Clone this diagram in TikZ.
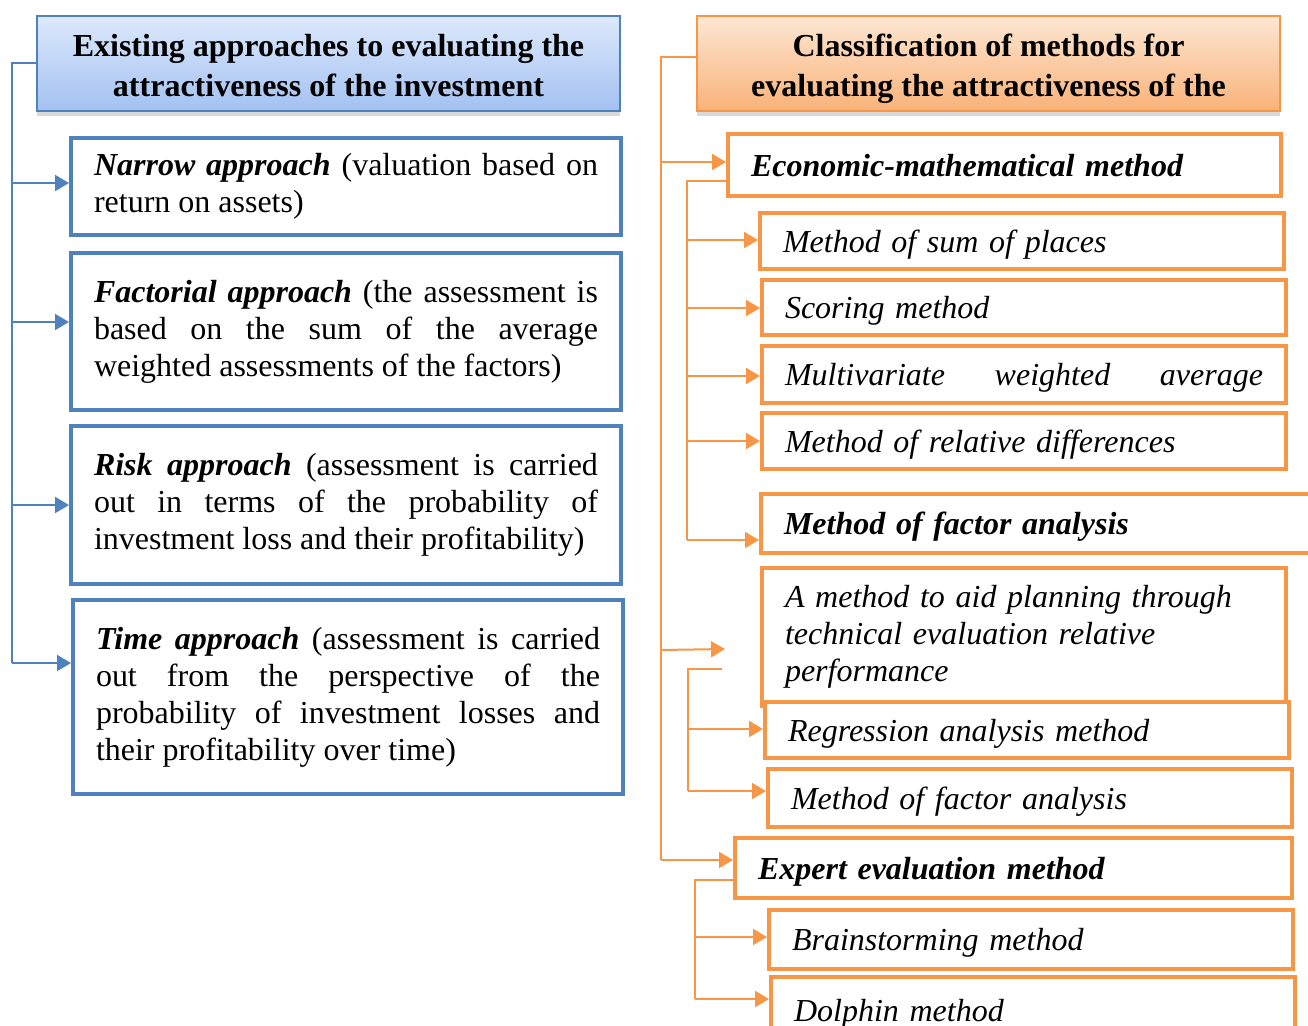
\documentclass[tikz,border=0pt]{standalone}
\usepackage{fontspec}
\setmainfont{Liberation Serif}
\usetikzlibrary{arrows.meta,positioning,shadows}
\definecolor{appblue}{HTML}{4F81BD}
\definecolor{bluetop}{HTML}{DDE9FC}
\definecolor{bluebot}{HTML}{A3C1F1}
\definecolor{apporange}{HTML}{F79646}
\definecolor{orangetop}{HTML}{FDE7D3}
\definecolor{orangebot}{HTML}{F9B278}
\newcommand{\headstrut}{\rule{0pt}{17pt}}
\tikzset{
    headbox/.style={
           rectangle,
           anchor=north west,
           minimum width=291.5pt,
           minimum height=47.5pt,
           inner ysep=0pt,
           line width=1pt,
           align=center,
           font=\fontsize{16}{20}\selectfont\bfseries,
           drop shadow={shadow xshift=0pt, shadow yshift=-2.5pt, opacity=.3},
           },
    bluehead/.style={headbox, draw=appblue, top color=bluetop, bottom color=bluebot},
    orangehead/.style={headbox, draw=apporange, top color=orangetop, bottom color=orangebot},
    approach/.style={
           rectangle,
           anchor=north west,
           draw=appblue, line width=2pt,
           fill=white,
           text width=252pt,
           inner xsep=11.5pt,
           align=justify,
           font=\fontsize{16}{18.5}\selectfont,
           },
    method/.style={
           rectangle,
           anchor=north west,
           draw=apporange, line width=2pt,
           fill=white,
           text width=239pt,
           text depth=0pt,
           inner xsep=11.5pt,
           align=left,
           font=\fontsize{16}{18.5}\selectfont\itshape,
           },
    group/.style={method, font=\fontsize{16}{18.5}\selectfont\bfseries\itshape},
    blueline/.style={draw=appblue, line width=1pt},
    bluearrow/.style={blueline, -{Triangle[length=7pt,width=8pt]}},
    orangeline/.style={draw=apporange, line width=1pt},
    orangearrow/.style={orangeline, -{Triangle[length=7pt,width=8pt]}},
}

\begin{document}
\begin{tikzpicture}[x=0.5pt,y=-0.5pt]
\useasboundingbox (0,0) rectangle (1308,1025);
\clip (0,0) rectangle (1308,1025);

% approaches
\node[bluehead] (existing) at (36,15)
  {\headstrut Existing approaches to evaluating the\\ attractiveness of the investment\vphantom{g}};
\node[approach, minimum height=48.5pt] (narrow) at (69,136)
  {\textbf{\textit{Narrow approach}} (valuation based on\linebreak return on assets)};
\node[approach, minimum height=78.5pt] (factorial) at (69,251)
  {\textbf{\textit{Factorial approach}} (the assessment is\linebreak based on the sum of the average\linebreak weighted assessments of the factors)};
\node[approach, minimum height=79pt] (risk) at (69,424)
  {\textbf{\textit{Risk approach}} (assessment is carried\linebreak out in terms of the probability of\linebreak investment loss and their profitability)};
\node[approach, minimum height=97pt] (time) at (71,598)
  {\textbf{\textit{Time approach}} (assessment is carried\linebreak out from the perspective of the\linebreak probability of investment losses and\linebreak their profitability over time)};

% methods
\node[orangehead] (classes) at (696,15)
  {\headstrut Classification of methods for\\ evaluating the attractiveness of the};
\node[group, text width=253.5pt, minimum height=31pt] (econ) at (726,132)
  {Economic-mathematical method};
\node[method, minimum height=28pt] (sumplaces) at (758,211) {Method of sum of places};
\node[method, minimum height=27.5pt] (scoring) at (760,278) {Scoring method};
\node[method, minimum height=28.5pt] (multivar) at (760,344)
  {Multivariate\hfill weighted\hfill average};
\node[method, minimum height=28pt] (reldiff) at (760,411) {Method of relative differences};
\node[group, text width=277pt, minimum height=29.5pt] (factor) at (759,492)
  {Method of factor analysis};
\node[method, text depth=, minimum height=69pt] (aid) at (760,566)
  {A method to aid planning through\\ technical evaluation relative\\ performance};
\node[method, minimum height=28pt] (regression) at (763,700) {Regression analysis method};
\node[method, minimum height=29pt] (factoralt) at (766,767) {Method of factor analysis};
\node[group, text width=255.5pt, minimum height=30pt] (expert) at (733,836)
  {Expert evaluation method};
\node[method, minimum height=29.5pt] (brainstorm) at (767,908) {Brainstorming method};
\node[method, minimum height=33pt] (dolphin) at (769,975) {Dolphin method};

% left connectors
\coordinate (lb0) at (12,63);
\coordinate (lb1) at (12,183);
\coordinate (lb2) at (12,322);
\coordinate (lb3) at (12,505);
\coordinate (lb4) at (12,663);
\draw[blueline] (lb0 -| existing.west) -- (lb0) -- (lb4);
\foreach \c/\n in {lb1/narrow, lb2/factorial, lb3/risk, lb4/time}
  \draw[bluearrow] (\c) -- (\c -| \n.west);

% right connectors
\coordinate (ob0) at (661,57);
\coordinate (ob1) at (661,162);
\coordinate (ob2) at (661,650);
\coordinate (ob3) at (661,860);
\coordinate (gapend) at (725,649);
\draw[orangeline] (ob0 -| classes.west) -- (ob0) -- (ob3);
\draw[orangearrow] (ob1) -- (ob1 -| econ.west);
\draw[orangearrow] (ob2) -- (gapend);
\draw[orangearrow] (ob3) -- (ob3 -| expert.west);

\coordinate (eb0) at (687,181);
\coordinate (eb1) at (687,240);
\coordinate (eb2) at (687,308);
\coordinate (eb3) at (687,376);
\coordinate (eb4) at (687,441);
\coordinate (eb5) at (687,540);
\draw[orangeline] (eb0 -| econ.west) -- (eb0) -- (eb5);
\foreach \c/\n in {eb1/sumplaces, eb2/scoring, eb3/multivar, eb4/reldiff, eb5/factor}
  \draw[orangearrow] (\c) -- (\c -| \n.west);

\coordinate (fbstart) at (722,669);
\coordinate (fb0) at (688,669);
\coordinate (fb1) at (688,729);
\coordinate (fb2) at (688,791);
\draw[orangeline] (fbstart) -- (fb0) -- (fb2);
\draw[orangearrow] (fb1) -- (fb1 -| regression.west);
\draw[orangearrow] (fb2) -- (fb2 -| factoralt.west);

\coordinate (xb0) at (695,880);
\coordinate (xb1) at (695,937);
\coordinate (xb2) at (695,999);
\draw[orangeline] (xb0 -| expert.west) -- (xb0) -- (xb2);
\draw[orangearrow] (xb1) -- (xb1 -| brainstorm.west);
\draw[orangearrow] (xb2) -- (xb2 -| dolphin.west);
\end{tikzpicture}
\end{document}
